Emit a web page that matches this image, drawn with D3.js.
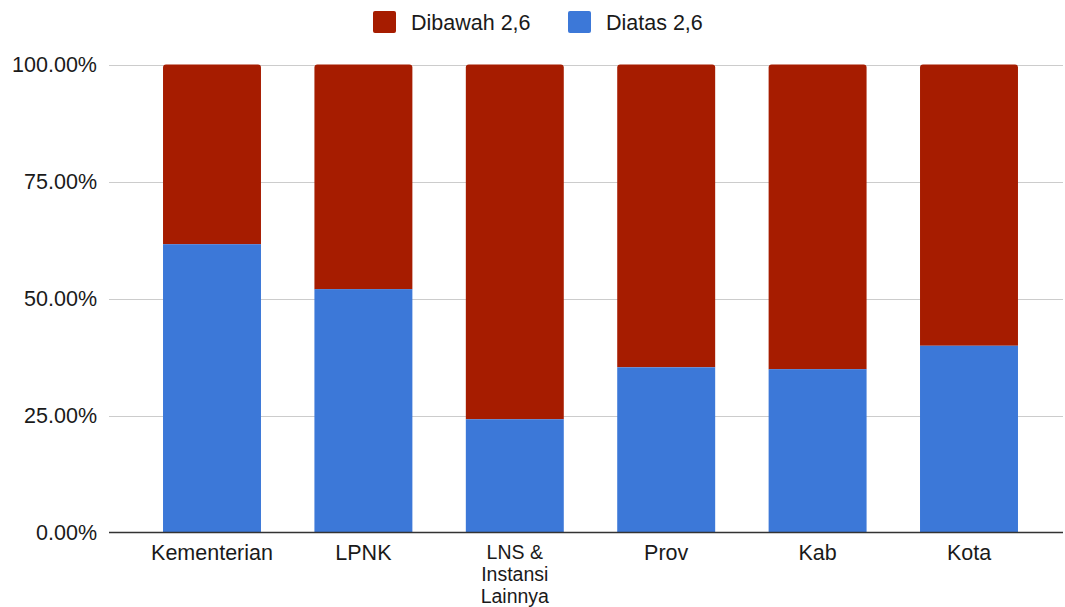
<!DOCTYPE html>
<html><head><meta charset="utf-8">
<script src="https://cdn.jsdelivr.net/npm/d3@7"></script>
<style>body{margin:0;background:#fff}svg{display:block}text{font-family:"Liberation Sans",Arial,sans-serif}</style>
</head><body><svg id="c" width="1065" height="607"></svg>
<script>
const categories = ["Kementerian","LPNK","LNS & Instansi Lainnya","Prov","Kab","Kota"];
const categoryLines = [["Kementerian"],["LPNK"],["LNS &","Instansi","Lainnya"],["Prov"],["Kab"],["Kota"]];
const diatas = [61.6, 52.0, 24.2, 35.3, 34.9, 39.9];
const dibawah = diatas.map(v => 100 - v);
const seriesNames = ["Dibawah 2,6","Diatas 2,6"];
const colors = ["#a61c00","#3c78d8"];
const yTicks = [0,25,50,75,100];

const svg = d3.select("#c");
const x = d3.scaleBand().domain(categories).range([136.3,1044.7]).paddingInner(0.353).paddingOuter(0.1765);
const y = d3.scaleLinear().domain([0,100]).range([532.5,64.5]);
const FS = 21.5;

// gridlines
svg.append("g").selectAll("line").data(yTicks.filter(d=>d>0)).join("line")
  .attr("x1",109).attr("x2",1063).attr("y1",d=>Math.round(y(d))+0.5).attr("y2",d=>Math.round(y(d))+0.5)
  .attr("stroke","#cccccc").attr("stroke-width",1);

// tick labels
svg.append("g").selectAll("text").data(yTicks).join("text")
  .attr("x",97).attr("y",d=>y(d)).attr("dy","0.35em").attr("text-anchor","end")
  .attr("font-size",FS).attr("fill","#1a1a1a").text(d=>d.toFixed(2)+"%");

// bars
const bw = x.bandwidth();
const r = 3;
categories.forEach((c,i)=>{
  const x0 = x(c);
  const yt = y(diatas[i] + dibawah[i]), yb = y(diatas[i]);
  svg.append("path").attr("fill",colors[0])
    .attr("d",`M${x0},${yb}V${yt+r}Q${x0},${yt} ${x0+r},${yt}H${x0+bw-r}Q${x0+bw},${yt} ${x0+bw},${yt+r}V${yb}Z`);
  svg.append("rect").attr("fill",colors[1]).attr("x",x0).attr("width",bw)
    .attr("y",y(diatas[i])).attr("height",y(0)-y(diatas[i]));
});

// zero line
svg.append("line").attr("x1",109).attr("x2",1063).attr("y1",532.5).attr("y2",532.5)
  .attr("stroke","#333").attr("stroke-width",1.3);

// category labels
categories.forEach((c,i)=>{
  const multi = categoryLines[i].length > 1;
  const fs = multi ? 19.5 : FS;
  const t = svg.append("text").attr("text-anchor","middle").attr("font-size",fs).attr("fill","#1a1a1a")
    .attr("x",x(c)+bw/2);
  categoryLines[i].forEach((l,j)=>{
    t.append("tspan").attr("x",x(c)+bw/2).attr("y",(multi?559:559.5)+j*21.8).text(l);
  });
});

// legend
const leg = [{n:seriesNames[0],c:colors[0],x:373},{n:seriesNames[1],c:colors[1],x:568}];
leg.forEach(l=>{
  svg.append("rect").attr("x",l.x).attr("y",11).attr("width",23).attr("height",22).attr("rx",2).attr("fill",l.c);
  svg.append("text").attr("x",l.x+38).attr("y",22).attr("dy","0.35em").attr("font-size",FS).attr("fill","#1a1a1a").text(l.n);
});
</script></body></html>
